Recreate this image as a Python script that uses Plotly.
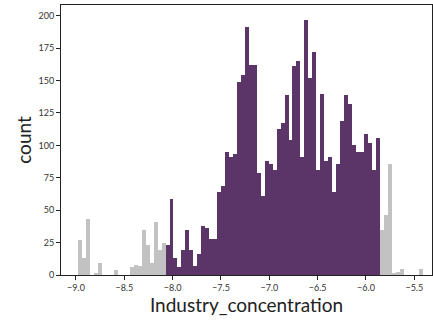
import plotly.graph_objects as go

# Histogram data
bin_start = -8.976
bin_width = 0.04103
counts = [27, 13, 43, 0, 1, 9, 0, 0, 0, 4, 0, 0, 0, 6, 8, 7, 35, 23, 9, 41, 19, 25,
          23, 59, 13, 6, 19, 35, 19, 7, 16, 38, 36, 28, 28, 64, 69, 95, 91, 93,
          149, 154, 191, 162, 162, 79, 61, 88, 86, 81, 113, 117, 139, 104, 161, 165,
          91, 197, 152, 172, 81, 140, 88, 91, 64, 86, 119, 139, 132, 100, 95, 95,
          109, 102, 81, 106,
          35, 46, 86, 1, 2, 5, 0, 0, 0, 0, 5]
highlight_lo = -8.0733
highlight_hi = -5.858
x_ticks = [-9.0, -8.5, -8.0, -7.5, -7.0, -6.5, -6.0, -5.5]
y_ticks = [0, 25, 50, 75, 100, 125, 150, 175, 200]

PURPLE = "#5b3568"
GRAY = "#c2c2c2"

centers = [bin_start + (i + 0.5) * bin_width for i in range(len(counts))]
colors = [PURPLE if highlight_lo < c < highlight_hi else GRAY for c in centers]

fig = go.Figure(go.Bar(x=centers, y=counts, width=[bin_width] * len(counts),
                       marker=dict(color=colors, line=dict(width=0))))

tickfont = dict(family="Lato", size=9, color="#333333")
fig.update_layout(
    width=433, height=324,
    margin=dict(l=61, r=1, t=5, b=49),
    paper_bgcolor="white", plot_bgcolor="white",
    bargap=0, showlegend=False,
    xaxis=dict(range=[-9.155, -5.317], tickvals=x_ticks,
               ticktext=[f"{v:.1f}".replace("-", "\u2212") for v in x_ticks],
               ticks="outside", ticklen=4, tickwidth=1, tickcolor="#222",
               showline=True, linecolor="#222", linewidth=1, mirror=True,
               showgrid=False, zeroline=False, tickfont=tickfont,
               title=dict(text="Industry_concentration",
                          font=dict(family="Lato", size=19, color="#222"),
                          standoff=6)),
    yaxis=dict(range=[0, 208.3], tickvals=y_ticks,
               ticks="outside", ticklen=4, tickwidth=1, tickcolor="#222",
               showline=True, linecolor="#222", linewidth=1, mirror=True,
               showgrid=False, zeroline=False, tickfont=tickfont,
               title=dict(text="count",
                          font=dict(family="Lato", size=19, color="#222"),
                          standoff=1)),
)

fig.write_html("out.html")
